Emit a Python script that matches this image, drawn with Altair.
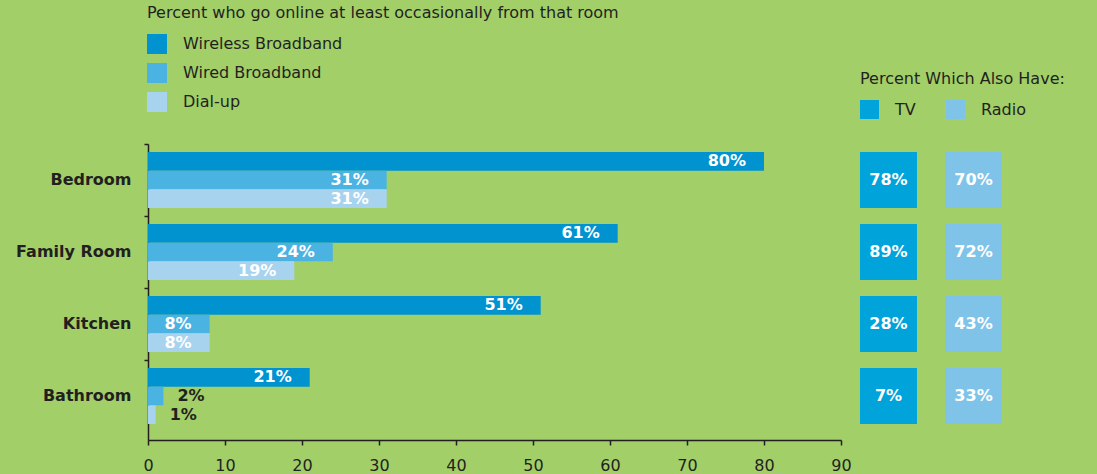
import altair as alt
import pandas as pd

rooms = ["Bedroom", "Family Room", "Kitchen", "Bathroom"]
types = ["Wireless Broadband", "Wired Broadband", "Dial-up"]
wireless = [80, 61, 51, 21]
wired = [31, 24, 8, 2]
dialup = [31, 19, 8, 1]
also_types = ["TV", "Radio"]
tv = [78, 89, 28, 7]
radio = [70, 72, 43, 33]

type_colors = ["#0093D0", "#4BB3E2", "#A8D3EF"]
also_colors = ["#00A3DA", "#7FC4E8"]
BG = "#A2CF68"
INK = "#231F20"
FONT = "DejaVu Sans"

rows = []
for t, vals in zip(types, [wireless, wired, dialup]):
    for r, v in zip(rooms, vals):
        rows.append({"room": r, "type": t, "value": v, "label": f"{v}%"})
df = pd.DataFrame(rows)

rows2 = []
for t, vals in zip(also_types, [tv, radio]):
    for r, v in zip(rooms, vals):
        rows2.append({"room": r, "kind": t, "value": v, "label": f"{v}%"})
df2 = pd.DataFrame(rows2)

# bands of 72px starting at the top of the plot, 8px spare at the bottom
yscale = alt.Scale(domain=rooms, paddingInner=0, paddingOuter=0.0556, align=0)

y_enc = alt.Y(
    "room:N", sort=rooms, scale=yscale,
    axis=alt.Axis(title=None, tickOffset=-36, labelOffset=36, labelFont=FONT, labelFontWeight="bold",
                  labelFontSize=16, labelColor=INK, labelPadding=13, tickSize=4,
                  domainColor=INK, tickColor=INK, domainWidth=1.5, tickWidth=1.5),
)
yoff = alt.YOffset("type:N", sort=types,
                   scale=alt.Scale(domain=types, paddingInner=0, paddingOuter=0.4286))
x_enc = alt.X(
    "value:Q", scale=alt.Scale(domain=[0, 90], nice=False, zero=True),
    axis=alt.Axis(title=None, values=list(range(0, 91, 10)), grid=False, tickSize=5,
                  labelFlush=False, labelFont=FONT, labelFontSize=16, labelColor=INK,
                  labelPadding=12, domainColor=INK, tickColor=INK, domainWidth=1.5, tickWidth=1.5),
)

bars = alt.Chart(df).mark_bar(cornerRadius=0).encode(
    y=y_enc, yOffset=yoff, x=x_enc,
    color=alt.Color(
        "type:N", sort=types, scale=alt.Scale(domain=types, range=type_colors),
        legend=alt.Legend(
            orient="none", legendX=-1, legendY=-139, direction="vertical",
            title="Percent who go online at least occasionally from that room",
            titleFont=FONT, titleFontSize=16, titleFontWeight="normal", titleColor=INK,
            titlePadding=13, titleLimit=800,
            labelFont=FONT, labelFontSize=16, labelColor=INK, labelOffset=16,
            symbolType="square", symbolSize=400, symbolStrokeWidth=0, symbolOpacity=1,
            rowPadding=9, padding=0, offset=0,
        ),
    ),
)

inside = alt.Chart(df).transform_filter(alt.datum.value >= 5).mark_text(
    align="right", baseline="middle", dx=-18, font=FONT, fontSize=16, fontWeight="bold", color="white"
).encode(y=alt.Y("room:N", sort=rooms, scale=yscale), yOffset=yoff, x=alt.X("value:Q"), text="label:N")

outside = alt.Chart(df).transform_filter(alt.datum.value < 5).mark_text(
    align="left", baseline="middle", dx=14, font=FONT, fontSize=16, fontWeight="bold", color=INK
).encode(y=alt.Y("room:N", sort=rooms, scale=yscale), yOffset=yoff, x=alt.X("value:Q"), text="label:N")

left = alt.layer(bars, inside, outside).properties(width=693, height=296)

# boxes: same rows as the bars, 56px tall inside each 72px band
yscale2 = alt.Scale(domain=rooms, paddingInner=0.2222, paddingOuter=0.1667, align=0.3333)
y2 = alt.Y("room:N", sort=rooms, scale=yscale2, axis=None)
x2 = alt.X("kind:N", sort=also_types, axis=None,
           scale=alt.Scale(domain=also_types, paddingInner=0.33, paddingOuter=0))

boxes = alt.Chart(df2).mark_rect().encode(
    x=x2, y=y2,
    color=alt.Color(
        "kind:N", sort=also_types, scale=alt.Scale(domain=also_types, range=also_colors),
        legend=alt.Legend(
            orient="none", legendX=0, legendY=-73, direction="horizontal",
            title="Percent Which Also Have:",
            titleFont=FONT, titleFontSize=16, titleFontWeight="normal", titleColor=INK,
            titlePadding=13, titleLimit=400,
            labelFont=FONT, labelFontSize=16, labelColor=INK, labelOffset=16,
            symbolType="square", symbolSize=361, symbolStrokeWidth=0, symbolOpacity=1,
            columnPadding=30, padding=0, offset=0,
        ),
    ),
)
box_text = alt.Chart(df2).mark_text(
    align="center", baseline="middle", font=FONT, fontSize=16, fontWeight="bold", color="white"
).encode(x=x2, y=y2, text="label:N")

right = alt.layer(boxes, box_text).properties(width=142, height=296)

chart = alt.hconcat(left, right, spacing=8).resolve_scale(color="independent", y="independent").properties(
    background=BG, padding={"left": 15, "top": 5, "right": 32, "bottom": 1}
).configure_view(stroke=None)

chart.save("out.html", embed_options={"renderer": "svg", "actions": False})
